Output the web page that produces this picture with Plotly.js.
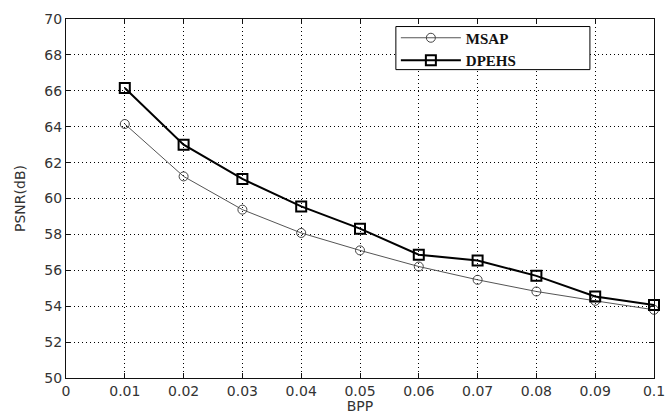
<!DOCTYPE html>
<html>
<head>
<meta charset="utf-8">
<script src="https://cdn.plot.ly/plotly-3.0.1.min.js"></script>
<style>html,body{margin:0;padding:0;background:#fff;}#chart{width:666px;height:414px;}</style>
</head>
<body>
<div id="chart"></div>
<script>
var bpp = [0.01, 0.02, 0.03, 0.04, 0.05, 0.06, 0.07, 0.08, 0.09, 0.1];
var msap = [64.15, 61.23, 59.38, 58.08, 57.11, 56.21, 55.47, 54.82, 54.30, 53.80];
var dpehs = [66.16, 63.00, 61.09, 59.56, 58.32, 56.87, 56.55, 55.69, 54.54, 54.06];
var xTicks = [0, 0.01, 0.02, 0.03, 0.04, 0.05, 0.06, 0.07, 0.08, 0.09, 0.1];
var xTickText = ['0', '0.01', '0.02', '0.03', '0.04', '0.05', '0.06', '0.07', '0.08', '0.09', '0.1'];
var yTicks = [50, 52, 54, 56, 58, 60, 62, 64, 66, 68, 70];

var traces = [
  {x: bpp, y: msap, name: 'MSAP', mode: 'lines+markers', cliponaxis: false,
   line: {color: '#555555', width: 1},
   marker: {symbol: 'circle-open', size: 9, color: '#444444', line: {width: 1}}},
  {x: bpp, y: dpehs, name: 'DPEHS', mode: 'lines+markers', cliponaxis: false,
   line: {color: '#000000', width: 2},
   marker: {symbol: 'square-open', size: 10, color: '#000000', line: {width: 2}}}
];

var tickFont = {family: 'DejaVu Sans, sans-serif', size: 14, color: '#333'};

var axisCommon = {
  showline: true, linecolor: '#111', linewidth: 1, mirror: 'ticks',
  ticks: 'inside', ticklen: 5, tickcolor: '#111',
  showgrid: true, gridcolor: '#000', griddash: '1px,3px', gridwidth: 1,
  zeroline: false, ticklabeloverflow: 'allow',
  tickfont: tickFont
};

var layout = {
  width: 666, height: 414,
  margin: {l: 66, r: 12, t: 19, b: 36},
  paper_bgcolor: '#fff', plot_bgcolor: '#fff',
  showlegend: true,
  xaxis: Object.assign({}, axisCommon, {
    range: [0, 0.10000001], tickvals: xTicks, ticktext: xTickText,
    title: {text: 'BPP', standoff: 0, font: tickFont}
  }),
  yaxis: Object.assign({}, axisCommon, {
    range: [50, 70], tickvals: yTicks,
    title: {text: 'PSNR(dB)', standoff: 15, font: tickFont}
  }),
  shapes: [{
    type: 'rect', xref: 'paper', yref: 'paper', layer: 'above',
    x0: 0.561, x1: 0.891, y0: 0.859, y1: 0.979,
    fillcolor: '#fff', line: {color: '#000', width: 1}
  }],
  legend: {
    x: 0.561, y: 0.993, xanchor: 'left', yanchor: 'top',
    bgcolor: 'rgba(0,0,0,0)', borderwidth: 0,
    itemwidth: 60, tracegroupgap: 0,
    font: {family: 'Liberation Serif, Times New Roman, serif', size: 15, color: '#111', weight: 'bold'}
  }
};

Plotly.newPlot('chart', traces, layout, {displayModeBar: false, staticPlot: true});
</script>
</body>
</html>
